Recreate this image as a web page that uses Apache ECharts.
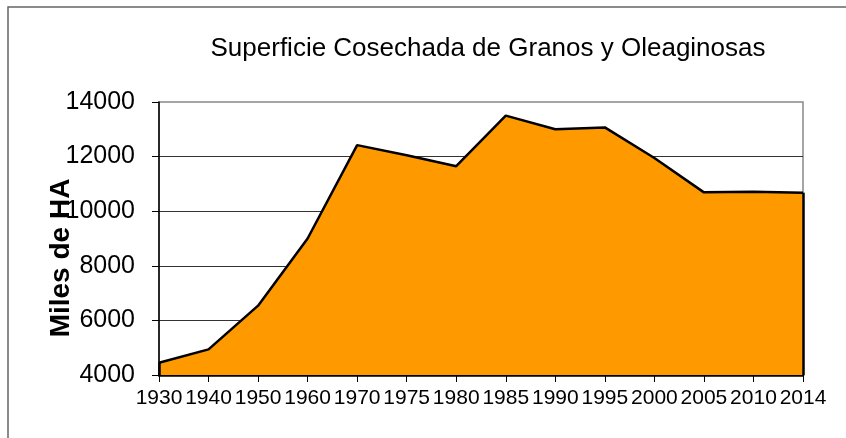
<!DOCTYPE html>
<html>
<head>
<meta charset="utf-8">
<script src="https://cdn.jsdelivr.net/npm/echarts@6/dist/echarts.min.js"></script>
<style>
html,body{margin:0;padding:0;background:#fff;}
#chart{width:846px;height:438px;}
</style>
</head>
<body>
<div id="chart"></div>
<script>
const titleText = 'Superficie Cosechada de Granos y Oleaginosas';
const yAxisTitle = 'Miles de HA';
const years = ['1930','1940','1950','1960','1970','1975','1980','1985','1990','1995','2000','2005','2010','2014'];
const superficie = [4450, 4940, 6540, 9000, 12420, 12050, 11650, 13500, 13000, 13070, 11950, 10690, 10710, 10680];
const yMin = 4000, yMax = 14000, yStep = 2000;

const chart = echarts.init(document.getElementById('chart'), null, {renderer:'canvas'});
const font = 'Liberation Sans, Arial, sans-serif';
const last = years.length - 1;
chart.setOption({
  animation: false,
  backgroundColor: '#fff',
  title: {
    text: titleText,
    left: 483,
    textAlign: 'center',
    top: 31,
    textStyle: {fontFamily: font, fontSize: 26, fontWeight: 'normal', color: '#000'}
  },
  graphic: [
    {type:'rect', shape:{x:8, y:7, width:860, height:460}, style:{fill:'none', stroke:'#666', lineWidth:1.5}, silent:true, z:-1},
    {type:'text', x:61, y:258, rotation:Math.PI/2,
     style:{text:yAxisTitle, fontFamily:font, fontSize:28, fontWeight:'bold', fill:'#000', align:'center', verticalAlign:'middle'}}
  ],
  grid: {left:159, right:43, top:102, bottom:63, show:true, borderColor:'#888', borderWidth:1.5, backgroundColor:'transparent'},
  xAxis: {
    type:'category', data: years, boundaryGap:false,
    axisLine:{show:true, lineStyle:{color:'#000', width:2.5}},
    axisTick:{show:true, alignWithLabel:true, length:7, inside:false, lineStyle:{color:'#000', width:1}},
    axisLabel:{interval:0, fontFamily:font, fontSize:21, color:'#000', margin:13},
    splitLine:{show:false}
  },
  yAxis: {
    type:'value', min:yMin, max:yMax, interval:yStep,
    axisLine:{show:true, lineStyle:{color:'#000', width:1.5}},
    axisTick:{show:true, length:7, lineStyle:{color:'#000', width:1}},
    axisLabel:{fontFamily:font, fontSize:25, color:'#000', margin:24, formatter: v => String(v)},
    splitLine:{show:true, showMaxLine:false, lineStyle:{color:'#333', width:1}}
  },
  series: [{
    type:'line', data: superficie, symbol:'none',
    lineStyle:{color:'#000', width:2.5},
    areaStyle:{color:'#FF9900', opacity:1},
    z: 3,
    markLine: {
      silent:true, symbol:['none','none'], label:{show:false},
      lineStyle:{color:'#000', width:2.5, type:'solid'},
      data: [
        [{coord:[years[0], yMin]}, {coord:[years[0], superficie[0]]}],
        [{coord:[years[last], yMin]}, {coord:[years[last], superficie[last]]}]
      ]
    }
  }]
});
</script>
</body>
</html>
